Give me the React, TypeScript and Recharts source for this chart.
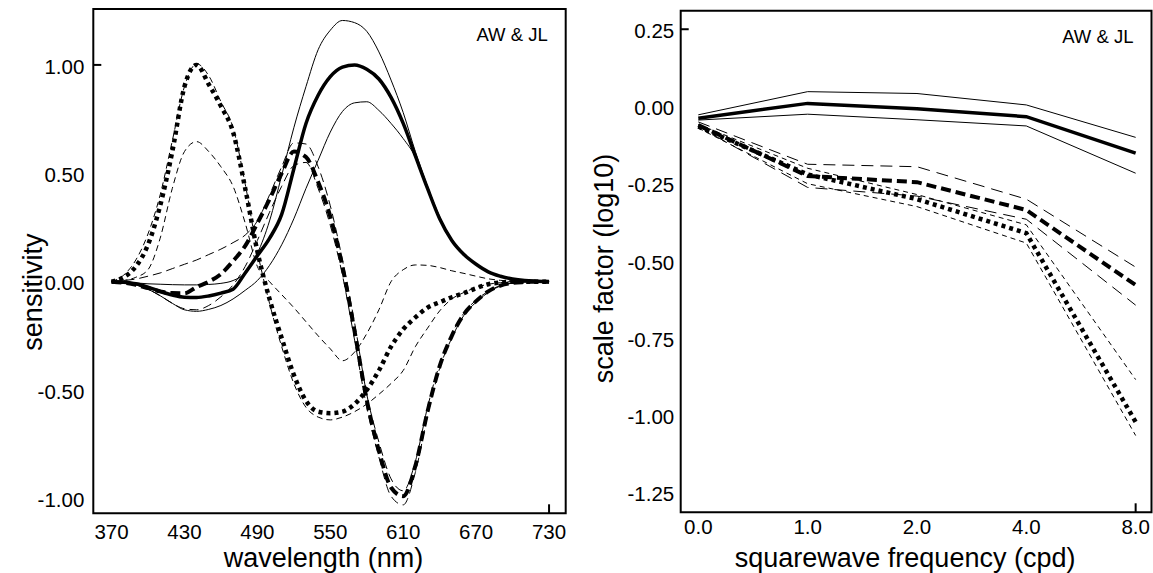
import { LineChart, Line, XAxis, YAxis, ReferenceArea } from "recharts";

const FONT = '"Liberation Sans", Arial, Helvetica, sans-serif';

// ---- left panel: spectral sensitivities (nm) ----
const WAVELENGTHS = [
  370, 380, 390, 400, 410, 420, 430, 440, 450, 460, 470, 480, 490, 500, 510, 520, 530, 540, 550,
  560, 570, 580, 590, 600, 610, 620, 630, 640, 650, 660, 670, 680, 690, 700, 710, 720, 730,
];
const WL_TICKS = [370, 430, 490, 550, 610, 670, 730];
const SENS_TICKS = [-1, -0.5, 0, 0.5, 1];

const L_MEAN = [0, -0.003, -0.01, -0.025, -0.045, -0.062, -0.072, -0.073, -0.066, -0.053, -0.035, 0.04, 0.12, 0.2, 0.31, 0.52, 0.73, 0.86, 0.946, 0.99, 1.0, 0.98, 0.935, 0.85, 0.73, 0.58, 0.43, 0.29, 0.19, 0.125, 0.08, 0.045, 0.025, 0.012, 0.005, 0.002, 0];
const L_UPPER = [0, -0.003, -0.006, -0.01, -0.012, -0.014, -0.015, -0.015, -0.013, -0.008, 0.005, 0.04, 0.13, 0.28, 0.49, 0.71, 0.9, 1.07, 1.16, 1.205, 1.195, 1.155, 1.06, 0.93, 0.78, 0.6, 0.44, 0.3, 0.195, 0.128, 0.083, 0.047, 0.026, 0.013, 0.006, 0.002, 0];
const L_LOWER = [0, -0.005, -0.015, -0.035, -0.065, -0.1, -0.13, -0.137, -0.128, -0.11, -0.08, -0.04, 0.005, 0.075, 0.17, 0.29, 0.43, 0.56, 0.69, 0.785, 0.825, 0.83, 0.79, 0.73, 0.66, 0.575, 0.43, 0.29, 0.19, 0.125, 0.08, 0.045, 0.025, 0.012, 0.005, 0.002, 0];

const M_MEAN = [0, -0.005, -0.015, -0.03, -0.045, -0.053, -0.054, -0.025, 0.0, 0.035, 0.095, 0.165, 0.27, 0.38, 0.5, 0.6, 0.575, 0.46, 0.3, 0.07, -0.23, -0.546, -0.78, -0.95, -0.99, -0.85, -0.6, -0.39, -0.25, -0.15, -0.09, -0.045, -0.018, -0.006, -0.002, 0, 0];
const M_UPPER = [0, 0.005, 0.012, 0.025, 0.04, 0.06, 0.08, 0.1, 0.125, 0.15, 0.18, 0.215, 0.28, 0.4, 0.53, 0.64, 0.635, 0.53, 0.35, 0.1, -0.19, -0.52, -0.74, -0.91, -0.965, -0.83, -0.58, -0.38, -0.24, -0.145, -0.085, -0.045, -0.018, -0.006, -0.002, 0, 0];
const M_LOWER = [0, -0.005, -0.015, -0.035, -0.065, -0.1, -0.125, -0.13, -0.11, -0.07, -0.015, 0.07, 0.19, 0.32, 0.44, 0.535, 0.55, 0.43, 0.26, 0.03, -0.27, -0.58, -0.81, -0.99, -1.03, -0.88, -0.62, -0.4, -0.26, -0.155, -0.095, -0.05, -0.02, -0.007, -0.002, 0, 0];

const S_MEAN = [0, 0.02, 0.07, 0.17, 0.35, 0.6, 0.9, 1.0, 0.91, 0.81, 0.69, 0.43, 0.14, -0.08, -0.26, -0.43, -0.55, -0.6, -0.607, -0.6, -0.565, -0.5, -0.41, -0.3, -0.22, -0.165, -0.12, -0.095, -0.072, -0.053, -0.03, -0.012, -0.004, 0, 0, 0, 0];
const S_BAND_A = [0, 0.03, 0.1, 0.22, 0.4, 0.65, 0.9, 1.005, 0.95, 0.83, 0.71, 0.45, 0.14, -0.1, -0.3, -0.47, -0.58, -0.625, -0.638, -0.625, -0.6, -0.565, -0.52, -0.47, -0.41, -0.3, -0.215, -0.135, -0.08, -0.05, -0.027, -0.012, -0.005, 0, 0, 0, 0];
const S_BAND_B = [0, 0.005, 0.02, 0.055, 0.2, 0.43, 0.6, 0.646, 0.6, 0.53, 0.44, 0.27, 0.07, 0.0, -0.06, -0.12, -0.185, -0.25, -0.31, -0.365, -0.325, -0.24, -0.13, 0.0, 0.055, 0.077, 0.075, 0.065, 0.05, 0.038, 0.025, 0.013, 0.006, 0.002, 0, 0, 0];

// ---- right panel: scale factors per squarewave frequency ----
const FREQ_LABELS = ["0.0", "1.0", "2.0", "4.0", "8.0"];
const SCALE_TICKS = [0.25, 0, -0.25, -0.5, -0.75, -1, -1.25];

const L_SF = [-0.038, 0.01, -0.007, -0.033, -0.151];
const L_SF_UP = [-0.027, 0.048, 0.042, 0.005, -0.1];
const L_SF_LO = [-0.044, -0.025, -0.043, -0.063, -0.216];
const M_SF = [-0.06, -0.225, -0.245, -0.335, -0.578];
const M_SF_UP = [-0.05, -0.187, -0.195, -0.3, -0.52];
const M_SF_LO = [-0.065, -0.262, -0.29, -0.365, -0.643];
const S_SF = [-0.065, -0.22, -0.3, -0.41, -1.021];
const S_SF_UP = [-0.058, -0.2, -0.285, -0.383, -0.884];
const S_SF_LO = [-0.07, -0.25, -0.324, -0.442, -1.065];

const spectralRows = WAVELENGTHS.map((wl, i) => ({
  wl,
  lMean: L_MEAN[i],
  lUp: L_UPPER[i],
  lLo: L_LOWER[i],
  mMean: M_MEAN[i],
  mUp: M_UPPER[i],
  mLo: M_LOWER[i],
  sMean: S_MEAN[i],
  sA: S_BAND_A[i],
  sB: S_BAND_B[i],
}));

const freqRows = FREQ_LABELS.map((label, i) => ({
  idx: i,
  label,
  lMean: L_SF[i],
  lUp: L_SF_UP[i],
  lLo: L_SF_LO[i],
  mMean: M_SF[i],
  mUp: M_SF_UP[i],
  mLo: M_SF_LO[i],
  sMean: S_SF[i],
  sUp: S_SF_UP[i],
  sLo: S_SF_LO[i],
}));

const WL_DOMAIN: [number, number] = [355.0, 743.7];
const SENS_DOMAIN: [number, number] = [-1.069, 1.258];
const IDX_DOMAIN: [number, number] = [-0.161, 4.145];
const SCALE_DOMAIN: [number, number] = [-1.3135, 0.31];

const TICK_FS = 20.5;
const TITLE_FS = 27;

// y tick: label plus a short inward mark on one value
const makeYTick = (margin: number, markValue: number) => (props: any) => {
  const { x, y, payload } = props;
  const v = Number(payload.value);
  return (
    <g>
      <text x={x} y={y} dy="0.42em" textAnchor="end" fontSize={TICK_FS} fontFamily={FONT} fill="#000">
        {v.toFixed(2)}
      </text>
      {Math.abs(v - markValue) < 1e-9 && (
        <line x1={x + margin} x2={x + margin + 8} y1={y} y2={y} stroke="#000" strokeWidth={2} />
      )}
    </g>
  );
};

const makeXTick = (margin: number, markValue: number, fmt: (v: number) => string) => (props: any) => {
  const { x, y, payload } = props;
  const v = Number(payload.value);
  return (
    <g>
      <text x={x} y={y} dy="0.71em" textAnchor="middle" fontSize={TICK_FS} fontFamily={FONT} fill="#000">
        {fmt(v)}
      </text>
      {Math.abs(v - markValue) < 1e-9 && (
        <line x1={x} x2={x} y1={y - margin - 9} y2={y - margin} stroke="#000" strokeWidth={2} />
      )}
    </g>
  );
};

const xTitle = (text: string, dx: number, baseline: number) => (p: any) => {
  const vb = p.viewBox || { x: 0, y: 0, width: 0, height: 0 };
  return (
    <text x={vb.x + vb.width / 2 + dx} y={vb.y + baseline} textAnchor="middle" fontSize={TITLE_FS} fontFamily={FONT} fill="#000">
      {text}
    </text>
  );
};

const yTitle = (text: string, dx: number, dy: number) => (p: any) => {
  const vb = p.viewBox || { x: 0, y: 0, width: 0, height: 0 };
  const cx = vb.x + vb.width + dx;
  const cy = vb.y + vb.height / 2 + dy;
  return (
    <text x={cx} y={cy} transform={`rotate(-90 ${cx} ${cy})`} textAnchor="middle" dominantBaseline="central" fontSize={TITLE_FS} fontFamily={FONT} fill="#000">
      {text}
    </text>
  );
};

const cornerTag = (p: any) => {
  const vb = p.viewBox || { x: 0, y: 0, width: 0, height: 0 };
  return (
    <text x={vb.x + vb.width - 18} y={vb.y + 32} textAnchor="end" fontSize={18.5} fontFamily={FONT} fill="#000">
      AW &amp; JL
    </text>
  );
};

const lineBase = { stroke: "#000", dot: false, activeDot: false, isAnimationActive: false } as const;

function SpectralPanel() {
  return (
    <LineChart width={580} height={573} data={spectralRows} margin={{ top: 9, right: 14.3, bottom: 58.7, left: 92.3 }}>
      <XAxis
        type="number"
        dataKey="wl"
        domain={WL_DOMAIN}
        allowDataOverflow
        ticks={WL_TICKS}
        interval={0}
        height={1}
        axisLine={false}
        tickLine={false}
        tickSize={0}
        tickMargin={11}
        tick={makeXTick(11, 730, (v) => String(v))}
        label={xTitle("wavelength (nm)", -6, 53.5)}
      />
      <YAxis
        type="number"
        domain={SENS_DOMAIN}
        allowDataOverflow
        ticks={SENS_TICKS}
        interval={0}
        width={1}
        axisLine={false}
        tickLine={false}
        tickSize={0}
        tickMargin={9}
        tick={makeYTick(9, 1)}
        label={yTitle("sensitivity", -60, 31)}
      />
      <ReferenceArea
        x1={WL_DOMAIN[0]}
        x2={WL_DOMAIN[1]}
        y1={SENS_DOMAIN[0]}
        y2={SENS_DOMAIN[1]}
        fill="none"
        fillOpacity={0}
        stroke="#000"
        strokeWidth={2}
        ifOverflow="visible"
        label={cornerTag}
      />
      <Line {...lineBase} type="monotone" dataKey="lUp" strokeWidth={1} />
      <Line {...lineBase} type="monotone" dataKey="lLo" strokeWidth={1} />
      <Line {...lineBase} type="monotone" dataKey="mUp" strokeWidth={1} strokeDasharray="9 5" />
      <Line {...lineBase} type="monotone" dataKey="mLo" strokeWidth={1} strokeDasharray="9 5" />
      <Line {...lineBase} type="monotone" dataKey="sA" strokeWidth={1} strokeDasharray="6 4" />
      <Line {...lineBase} type="monotone" dataKey="sB" strokeWidth={1} strokeDasharray="6 4" />
      <Line {...lineBase} type="monotone" dataKey="sMean" strokeWidth={4.5} strokeDasharray="4 4" />
      <Line {...lineBase} type="monotone" dataKey="mMean" strokeWidth={4} strokeDasharray="10 5" />
      <Line {...lineBase} type="monotone" dataKey="lMean" strokeWidth={3.5} />
    </LineChart>
  );
}

function FrequencyPanel() {
  return (
    <LineChart width={573} height={573} data={freqRows} margin={{ top: 10.7, right: 1.5, bottom: 59.7, left: 99.7 }}>
      <XAxis
        type="number"
        dataKey="idx"
        domain={IDX_DOMAIN}
        allowDataOverflow
        ticks={[0, 1, 2, 3, 4]}
        interval={0}
        height={1}
        axisLine={false}
        tickLine={false}
        tickSize={0}
        tickMargin={7}
        tick={makeXTick(7, 4, (v) => FREQ_LABELS[v] ?? "")}
        label={xTitle("squarewave frequency (cpd)", -11, 54.5)}
      />
      <YAxis
        type="number"
        domain={SCALE_DOMAIN}
        allowDataOverflow
        ticks={SCALE_TICKS}
        interval={0}
        width={1}
        axisLine={false}
        tickLine={false}
        tickSize={0}
        tickMargin={6.5}
        tick={makeYTick(6.5, 0.25)}
        label={yTitle("scale factor (log10)", -77, 7)}
      />
      <ReferenceArea
        x1={IDX_DOMAIN[0]}
        x2={IDX_DOMAIN[1]}
        y1={SCALE_DOMAIN[0]}
        y2={SCALE_DOMAIN[1]}
        fill="none"
        fillOpacity={0}
        stroke="#000"
        strokeWidth={2}
        ifOverflow="visible"
        label={cornerTag}
      />
      <Line {...lineBase} type="linear" dataKey="lUp" strokeWidth={1} />
      <Line {...lineBase} type="linear" dataKey="lLo" strokeWidth={1} />
      <Line {...lineBase} type="linear" dataKey="mUp" strokeWidth={1} strokeDasharray="12 7" />
      <Line {...lineBase} type="linear" dataKey="mLo" strokeWidth={1} strokeDasharray="12 7" />
      <Line {...lineBase} type="linear" dataKey="sUp" strokeWidth={1} strokeDasharray="5 4" />
      <Line {...lineBase} type="linear" dataKey="sLo" strokeWidth={1} strokeDasharray="5 4" />
      <Line {...lineBase} type="linear" dataKey="sMean" strokeWidth={4.5} strokeDasharray="4 4" />
      <Line {...lineBase} type="linear" dataKey="mMean" strokeWidth={4} strokeDasharray="10 5" />
      <Line {...lineBase} type="linear" dataKey="lMean" strokeWidth={3.5} />
    </LineChart>
  );
}

export default function App() {
  return (
    <div
      style={{
        position: "absolute",
        left: 0,
        top: 0,
        width: 1153,
        height: 573,
        display: "flex",
        background: "#fff",
        fontFamily: FONT,
      }}
    >
      <SpectralPanel />
      <FrequencyPanel />
    </div>
  );
}
